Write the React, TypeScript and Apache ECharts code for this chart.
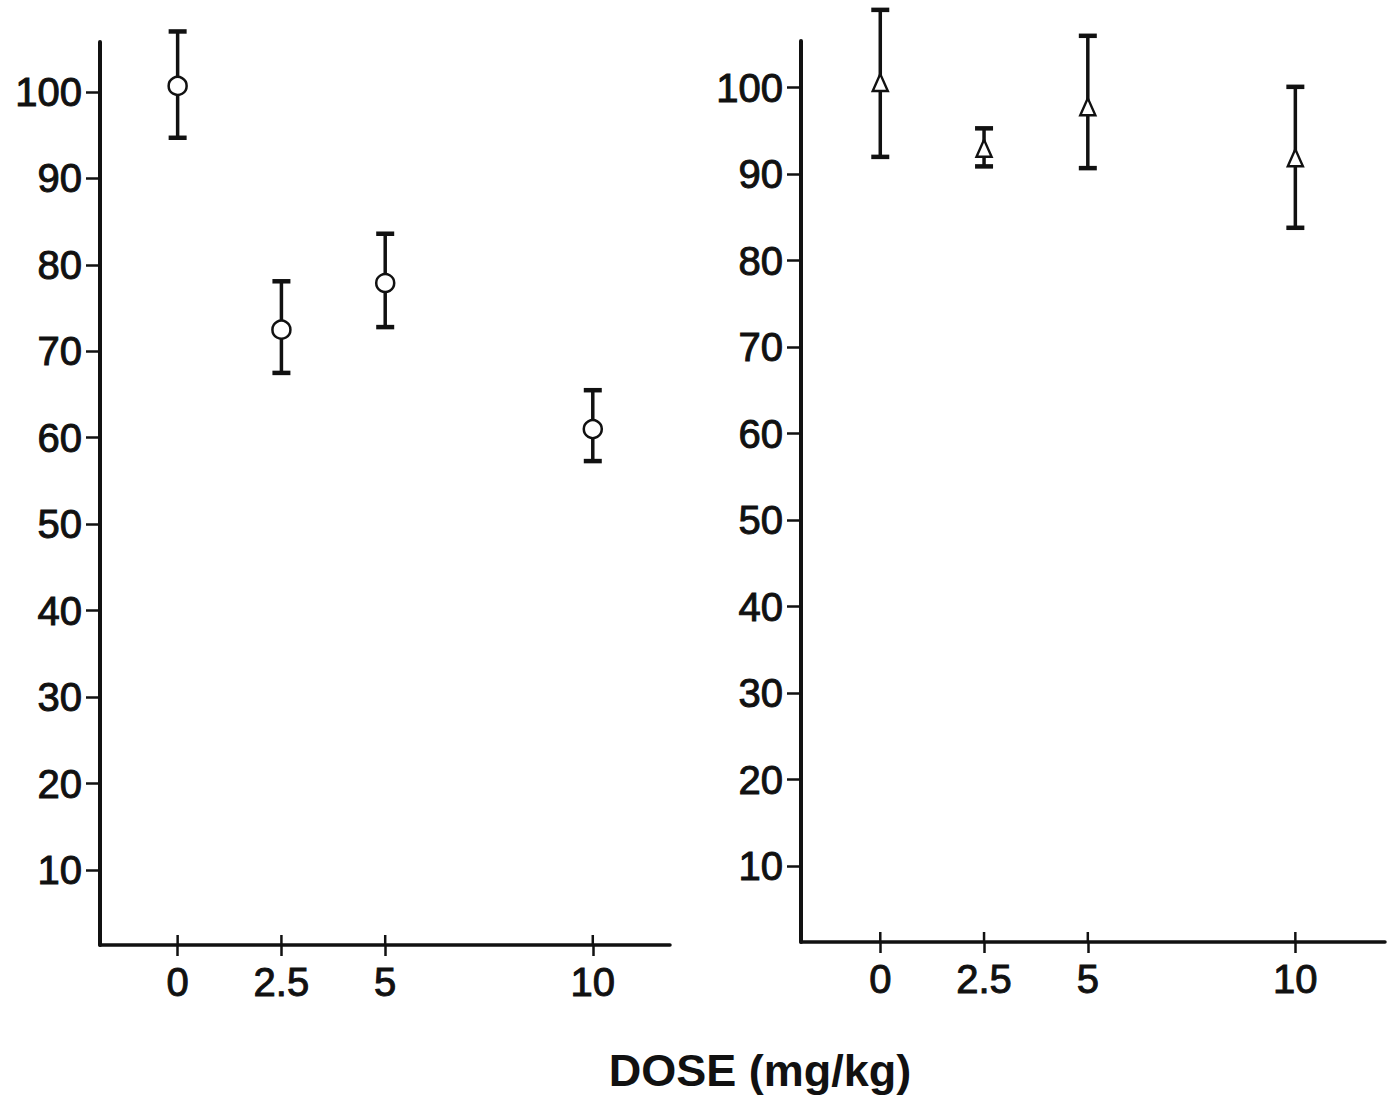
import React, { useEffect, useRef } from "react";
import * as echarts from "echarts";

const doses = [0, 2.5, 5, 10];
const xTickLabels = ["0", "2.5", "5", "10"];
const yTicks = [10, 20, 30, 40, 50, 60, 70, 80, 90, 100];

const leftMean = [100.7, 72.5, 77.9, 61.0];
const leftHigh = [107.0, 78.1, 83.6, 65.5];
const leftLow = [94.7, 67.5, 72.8, 57.3];

const rightMean = [100.6, 93.0, 97.8, 91.9];
const rightHigh = [109.0, 95.3, 106.0, 100.1];
const rightLow = [92.0, 90.9, 90.7, 83.8];

const xTitle = "DOSE (mg/kg)";

const INK = "#111";
const FONT = "Liberation Sans, Arial, sans-serif";

function App() {
  const ref = useRef<HTMLDivElement>(null);

  useEffect(() => {
    document.body.style.margin = "0";
    const chart = echarts.init(ref.current!, null, { renderer: "svg" });

    const yAxisFor = (gridIndex: number, min: number, max: number) => ({
      type: "value",
      gridIndex,
      min,
      max,
      axisLine: { show: true, onZero: false, lineStyle: { color: INK, width: 4 } },
      axisTick: {
        show: true,
        length: 14,
        customValues: yTicks,
        lineStyle: { color: INK, width: 2.5 },
      },
      axisLabel: {
        show: true,
        customValues: yTicks,
        margin: 18,
        color: INK,
        fontFamily: FONT,
        fontSize: 40,
        textBorderColor: INK,
        textBorderWidth: 1,
        showMinLabel: true,
        showMaxLabel: true,
      },
      splitLine: { show: false },
    });

    const xAxisFor = (gridIndex: number, min: number, max: number) => ({
      type: "value",
      gridIndex,
      min,
      max,
      position: "bottom",
      axisLine: { show: true, onZero: false, lineStyle: { color: INK, width: 3.5 } },
      axisTick: {
        show: true,
        length: 11,
        customValues: doses,
        lineStyle: { color: INK, width: 2.5 },
      },
      axisLabel: {
        show: true,
        customValues: doses,
        margin: 17,
        color: INK,
        fontFamily: FONT,
        fontSize: 40,
        textBorderColor: INK,
        textBorderWidth: 1,
        formatter: (v: number) => xTickLabels[doses.indexOf(v)] ?? "",
      },
      splitLine: { show: false },
    });

    const errRender = (params: any, api: any) => {
      const x = api.value(0);
      const lo = api.coord([x, api.value(1)]);
      const hi = api.coord([x, api.value(2)]);
      const cs = params.coordSys;
      const axisY = cs.y + cs.height;
      const half = 9;
      const style = { stroke: INK, lineWidth: 3.5 };
      return {
        type: "group",
        children: [
          { type: "line", shape: { x1: lo[0], y1: lo[1], x2: hi[0], y2: hi[1] }, style },
          { type: "line", shape: { x1: hi[0] - half, y1: hi[1], x2: hi[0] + half, y2: hi[1] }, style: { stroke: INK, lineWidth: 4.5 } },
          { type: "line", shape: { x1: lo[0] - half, y1: lo[1], x2: lo[0] + half, y2: lo[1] }, style: { stroke: INK, lineWidth: 4.5 } },
          // upper half of the crossing x-axis tick
          { type: "line", shape: { x1: lo[0], y1: axisY, x2: lo[0], y2: axisY - 10 }, style: { stroke: INK, lineWidth: 2.5 } },
        ],
      };
    };

    chart.setOption({
      animation: false,
      backgroundColor: "#fff",
      grid: [
        { left: 100, top: 42, width: 570, height: 903, outerBoundsMode: "none" },
        { left: 801, top: 41, width: 584, height: 901, outerBoundsMode: "none" },
      ],
      xAxis: [xAxisFor(0, -1.87, 11.86), xAxisFor(1, -1.91, 12.16)],
      yAxis: [yAxisFor(0, 1.32, 105.78), yAxisFor(1, 1.21, 105.4)],
      series: [
        {
          type: "custom",
          xAxisIndex: 0,
          yAxisIndex: 0,
          renderItem: errRender,
          data: doses.map((d, i) => [d, leftLow[i], leftHigh[i]]),
          z: 2,
        },
        {
          type: "scatter",
          xAxisIndex: 0,
          yAxisIndex: 0,
          symbol: "circle",
          symbolSize: 18,
          itemStyle: { color: "#fff", borderColor: INK, borderWidth: 2.5, opacity: 1 },
          data: doses.map((d, i) => [d, leftMean[i]]),
          z: 3,
        },
        {
          type: "custom",
          xAxisIndex: 1,
          yAxisIndex: 1,
          renderItem: errRender,
          data: doses.map((d, i) => [d, rightLow[i], rightHigh[i]]),
          z: 2,
        },
        {
          type: "scatter",
          xAxisIndex: 1,
          yAxisIndex: 1,
          symbol: "triangle",
          symbolSize: [15, 17],
          itemStyle: { color: "#fff", borderColor: INK, borderWidth: 2.5, opacity: 1 },
          data: doses.map((d, i) => [d, rightMean[i]]),
          z: 3,
        },
      ],
      graphic: [
        {
          type: "text",
          x: 760,
          y: 1070,
          style: {
            text: xTitle,
            fill: INK,
            font: `bold 45px ${FONT}`,
            textAlign: "center",
            textVerticalAlign: "middle",
          },
        },
      ],
    });

    return () => chart.dispose();
  }, []);

  return <div ref={ref} style={{ width: 1396, height: 1100 }} />;
}

export default App;
